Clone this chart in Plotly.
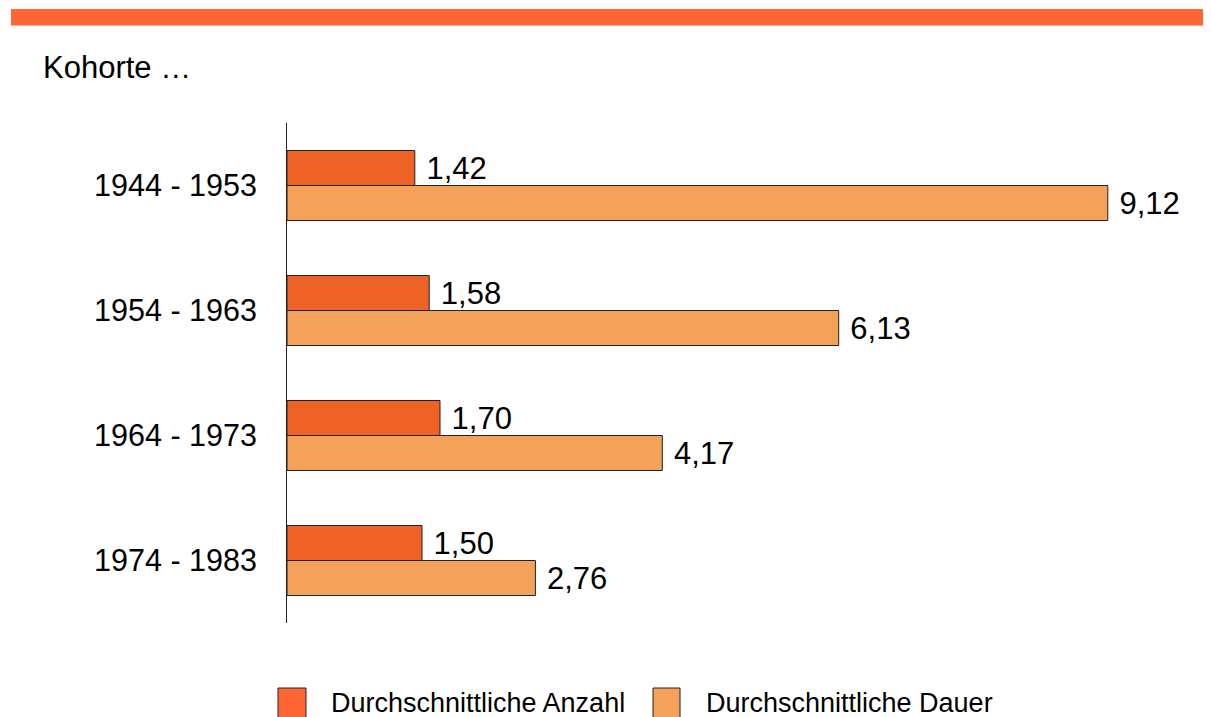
import plotly.graph_objects as go

kohorten = ["1944 - 1953", "1954 - 1963", "1964 - 1973", "1974 - 1983"]
anzahl = [1.42, 1.58, 1.70, 1.50]
dauer = [9.12, 6.13, 4.17, 2.76]
series_names = ["Durchschnittliche Anzahl", "Durchschnittliche Dauer"]

FONT = "Liberation Sans, Arial, sans-serif"
C_DARK = "#EE6325"
C_LIGHT = "#F4A25A"
C_LEG_DARK = "#FF6633"

fig = go.Figure()
for name, vals, col in [(series_names[0], anzahl, C_DARK), (series_names[1], dauer, C_LIGHT)]:
    fig.add_trace(go.Bar(
        name=name, y=kohorten, x=vals, orientation="h",
        marker=dict(color=col, line=dict(color="#222222", width=1)),
        texttemplate="\u00a0%{x:.2f}", textposition="outside",
        textfont=dict(size=31, color="black", family=FONT),
        cliponaxis=False, showlegend=False,
    ))

# manual legend (swatches + labels)
shapes = [dict(type="rect", xref="paper", yref="paper", x0=-0.3067, x1=1.0356,
               y0=1.195, y1=1.228, fillcolor="#FF6633", line=dict(width=0), layer="above")]
annotations = [dict(text="Kohorte …", xref="paper", yref="paper", x=-0.2733, y=1.11,
                    xanchor="left", yanchor="middle", showarrow=False,
                    font=dict(size=31, color="black", family=FONT))]
for (sx0, sx1, tx), name, col in zip([(-0.01, 0.0211, 0.0467), (0.4067, 0.4367, 0.4633)],
                                      series_names, [C_LEG_DARK, C_LIGHT]):
    shapes.append(dict(type="rect", xref="paper", yref="paper", x0=sx0, x1=sx1,
                       y0=-0.215, y1=-0.13, fillcolor=col, line=dict(color="#222222", width=1)))
    annotations.append(dict(text=name, xref="paper", yref="paper", x=tx, y=-0.16,
                            xanchor="left", yanchor="middle", showarrow=False,
                            font=dict(size=27, color="black", family=FONT)))

fig.update_layout(
    width=1211, height=717,
    margin=dict(l=279, r=32, t=115, b=102),
    paper_bgcolor="white", plot_bgcolor="white",
    barmode="group", bargap=0.44, bargroupgap=0,
    separators=",.",
    font=dict(family=FONT, size=30, color="black"),
    showlegend=False,
    xaxis=dict(range=[0, 10], showticklabels=False, showgrid=False, zeroline=False, showline=False),
    yaxis=dict(autorange="reversed", showline=True, linecolor="#222222", linewidth=1,
               showgrid=False, ticks="", ticklabelstandoff=23,
               tickfont=dict(size=30.5, color="black", family=FONT)),
    shapes=shapes,
    annotations=annotations,
)

fig.write_html("out.html")
